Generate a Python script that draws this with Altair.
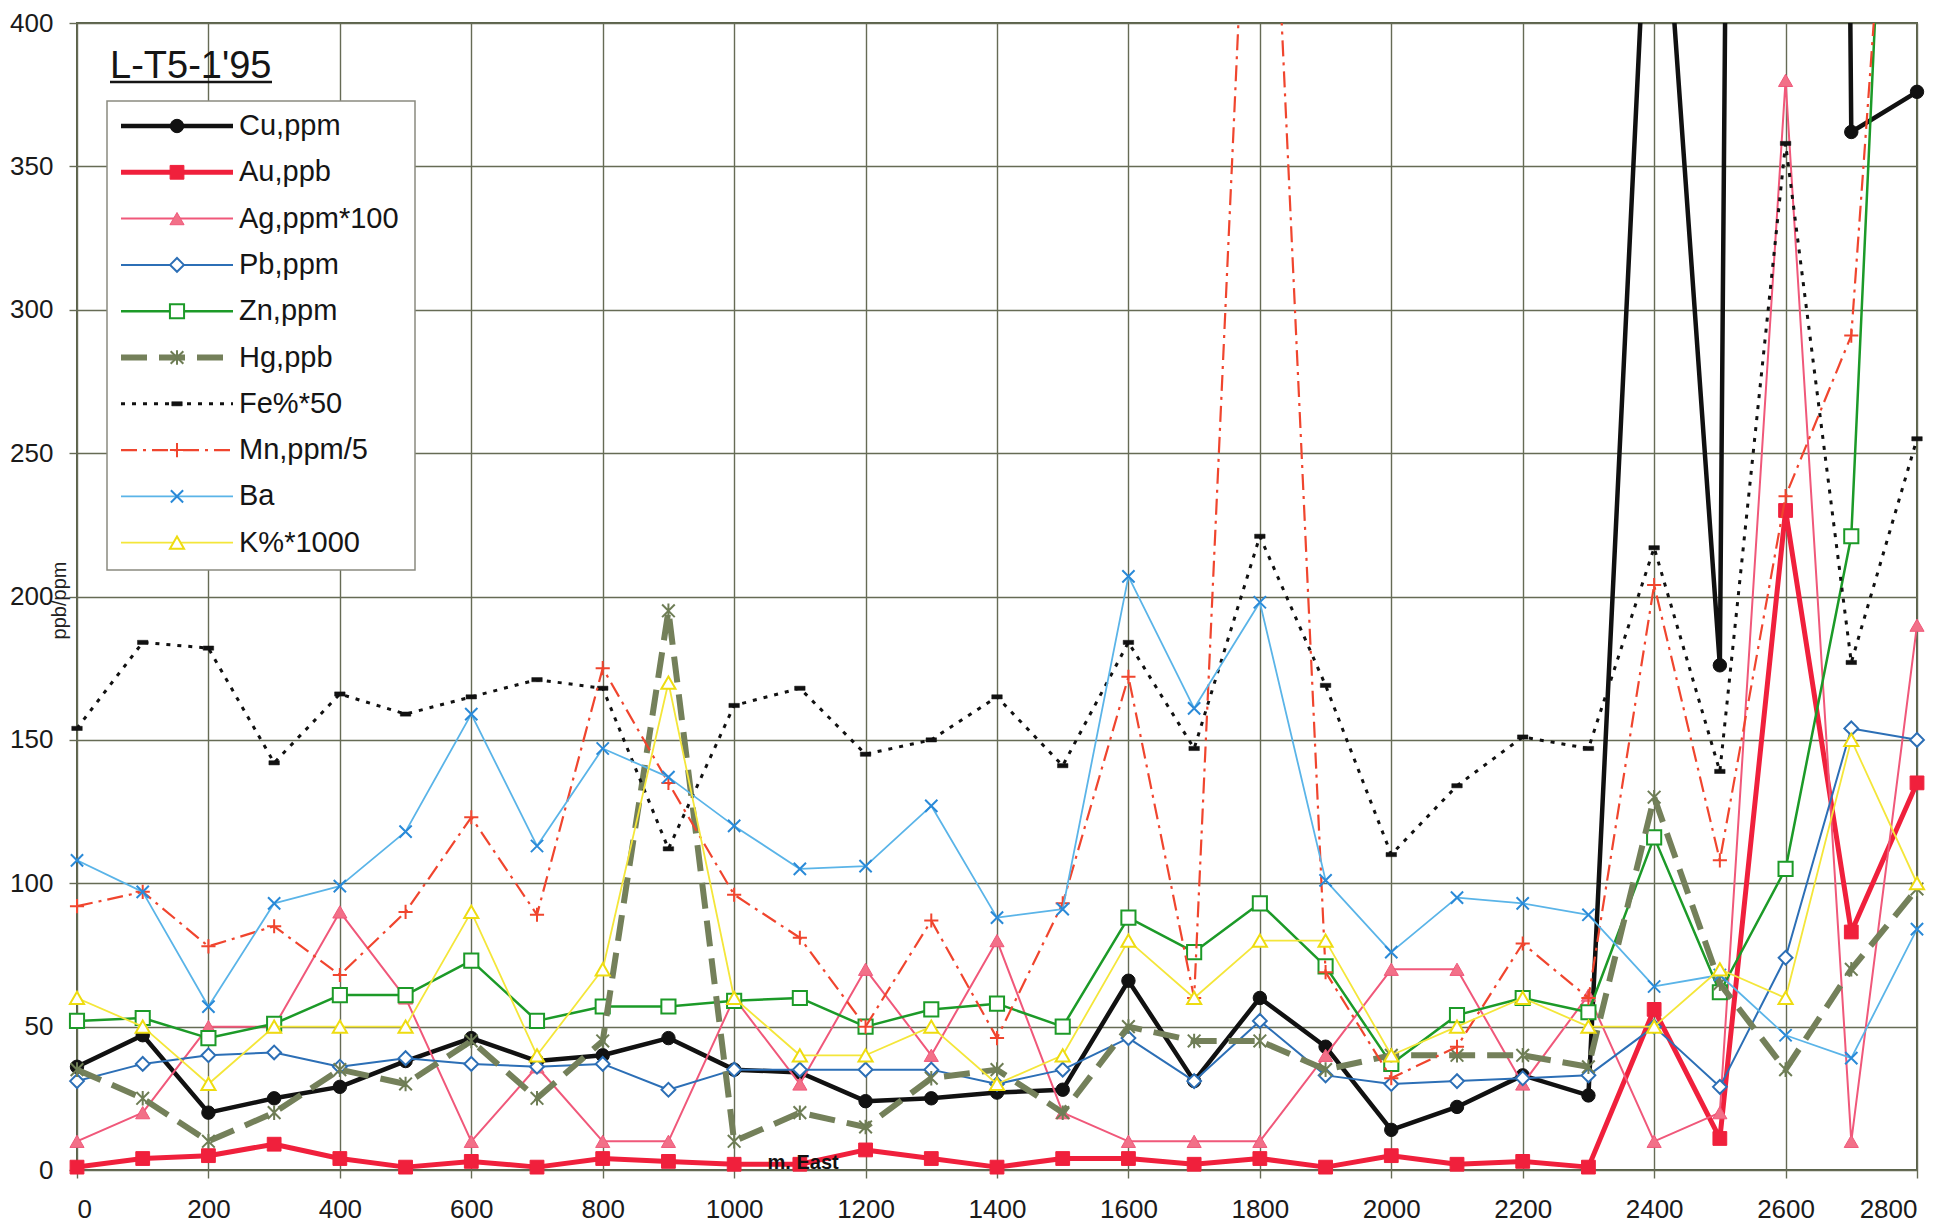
import altair as alt
import pandas as pd

# Sample positions along the line (m East)
distance = list(range(0, 2900, 100))

# Assay values per station (scaled as named in the legend)
cu = [36, 47, 20, 25, 29, 38, 46, 38, 40, 46, 35, 34, 24, 25, 27, 28, 66, 31, 60, 43,
      14, 22, 33, 26, 500, 176, 3000, 362, 376]
au = [1, 4, 5, 9, 4, 1, 3, 1, 4, 3, 2, 2, 7, 4, 1, 4, 4, 2, 4, 1,
      5, 2, 3, 1, 56, 11, 230, 83, 135]
ag = [10, 20, 50, 50, 90, 60, 10, 36, 10, 10, 60, 30, 70, 40, 80, 20, 10, 10, 10, 40,
      70, 70, 30, 61, 10, 20, 380, 10, 190]
pb = [31, 37, 40, 41, 36, 39, 37, 36, 37, 28, 35, 35, 35, 35, 30, 35, 46, 31, 52, 33,
      30, 31, 32, 33, 50, 29, 74, 154, 150]
zn = [52, 53, 46, 51, 61, 61, 73, 52, 57, 57, 59, 60, 50, 56, 58, 50, 88, 76, 93, 71,
      37, 54, 60, 55, 116, 62, 105, 221, 720]
hg = [35, 25, 10, 20, 35, 30, 45, 25, 45, 195, 10, 20, 15, 32, 35, 20, 50, 45, 45, 35,
      40, 40, 40, 36, 130, 65, 35, 70, 98]
fe = [154, 184, 182, 142, 166, 159, 165, 171, 168, 112, 162, 168, 145, 150, 165, 141, 184, 147, 221, 169,
      110, 134, 151, 147, 217, 139, 358, 177, 255]
mn = [92, 97, 78, 85, 68, 90, 123, 89, 175, 135, 96, 81, 50, 87, 46, 93, 172, 60, 565, 69,
      32, 43, 79, 60, 204, 108, 235, 291, 610]
ba = [108, 97, 57, 93, 99, 118, 159, 113, 147, 137, 120, 105, 106, 127, 88, 91, 207, 161, 198, 101,
      76, 95, 93, 89, 64, 68, 47, 39, 84]
k = [60, 50, 30, 50, 50, 50, 90, 40, 70, 170, 60, 40, 40, 50, 30, 40, 80, 60, 80, 80,
     40, 50, 60, 50, 50, 70, 60, 150, 100]

series_names = ["Cu,ppm", "Au,ppb", "Ag,ppm*100", "Pb,ppm", "Zn,ppm",
                "Hg,ppb", "Fe%*50", "Mn,ppm/5", "Ba", "K%*1000"]
series_values = [cu, au, ag, pb, zn, hg, fe, mn, ba, k]

chart_title = ["L-T5-1'95"]
x_note = ["m. East"]
x_note_pos = [1105]
y_axis_title = "ppb/ppm"

FONT = "Arial, Liberation Sans, sans-serif"
GRID = "#666b55"

# custom marker outlines (unit square -1..1)
ASTERISK = "M-1,-1L1,1M-1,1L1,-1M0,-1.15L0,1.15"
XMARK = "M-1,-1L1,1M-1,1L1,-1"
PLUS = "M-1,0L1,0M0,-1L0,1"
BAR = "M-1,-0.4L1,-0.4L1,0.4L-1,0.4Z"

styles = [
    dict(line="#111111", w=4.5, dash=None, shape="circle", fill="#111111", stroke="#111111", sw=1, size=180),
    dict(line="#f0203c", w=5, dash=None, shape="square", fill="#f0203c", stroke="#f0203c", sw=1, size=190),
    dict(line="#f0587a", w=2, dash=None, shape="triangle-up", fill="#f27088", stroke="#f0587a", sw=1, size=200),
    dict(line="#2c6fb6", w=2, dash=None, shape="diamond", fill="white", stroke="#2c6fb6", sw=2, size=190),
    dict(line="#1c9a28", w=2.5, dash=None, shape="square", fill="white", stroke="#1c9a28", sw=2, size=200),
    dict(line="#74805a", w=6, dash=[26, 12], shape=ASTERISK, fill=None, stroke="#6e7d55", sw=2, size=160),
    dict(line="#111111", w=3, dash=[4, 7], shape=BAR, fill="#111111", stroke="#111111", sw=0.5, size=110),
    dict(line="#f0452e", w=2.2, dash=[16, 6, 3, 6], shape=PLUS, fill=None, stroke="#f0452e", sw=2, size=200),
    dict(line="#5ab4e8", w=1.8, dash=None, shape=XMARK, fill=None, stroke="#2a8ad8", sw=2, size=150),
    dict(line="#f4e63a", w=1.8, dash=None, shape="triangle-up", fill="white", stroke="#eedc10", sw=2, size=200),
]

x_scale = alt.Scale(domain=[0, 2800], nice=False, zero=False)
y_scale = alt.Scale(domain=[0, 400], nice=False)
x_axis = alt.Axis(values=list(range(0, 2801, 200)), format="d", title=None, labelPadding=18)
y_axis = alt.Axis(values=list(range(0, 401, 50)), format="d", title=y_axis_title, titleFontSize=20,
                  titleFont=FONT, titleFontWeight="normal", titleColor="#222222",
                  titleX=-18, titleY=577, titleAngle=270, titleAlign="center",
                  titleBaseline="middle", labelPadding=16)

X = alt.X("m:Q", scale=x_scale, axis=x_axis)
Y = alt.Y("v:Q", scale=y_scale, axis=y_axis)

layers = []
one_row = pd.DataFrame({"a": [0]})

# legend frame
layers.append(
    alt.Chart(one_row).mark_rect(fill="white", stroke="#8a8a80", strokeWidth=1.5).encode(
        x=alt.value(30), x2=alt.value(338), y=alt.value(78), y2=alt.value(547))
)

for i, (name, vals, st) in enumerate(zip(series_names, series_values, styles)):
    df = pd.DataFrame({"m": distance, "v": vals})
    line_kw = dict(color=st["line"], strokeWidth=st["w"], clip=True, strokeJoin="round")
    if st["dash"]:
        line_kw["strokeDash"] = st["dash"]
    layers.append(alt.Chart(df).mark_line(**line_kw).encode(x=X, y=Y))

    pt_kw = dict(shape=st["shape"], size=st["size"], stroke=st["stroke"],
                 strokeWidth=st["sw"], opacity=1)
    if st["fill"]:
        pt_kw.update(filled=True, fill=st["fill"], fillOpacity=1)
    else:
        pt_kw.update(filled=False)
    layers.append(
        alt.Chart(df).mark_point(**pt_kw).encode(x=X, y=Y).transform_filter("datum.v <= 400")
    )

    # legend row
    ly = 103 + i * 46.3
    leg = pd.DataFrame({"label": [name]})
    rule_kw = dict(color=st["line"], strokeWidth=st["w"])
    if st["dash"]:
        rule_kw["strokeDash"] = st["dash"]
    layers.append(alt.Chart(leg).mark_rule(**rule_kw).encode(
        x=alt.value(44), x2=alt.value(156), y=alt.value(ly)))
    layers.append(alt.Chart(leg).mark_point(**pt_kw).encode(x=alt.value(100), y=alt.value(ly)))
    layers.append(alt.Chart(leg).mark_text(align="left", baseline="middle", fontSize=29,
                                           font=FONT, color="#151515").encode(
        x=alt.value(162), y=alt.value(ly), text="label:N"))

# underlined heading
title_df = pd.DataFrame({"label": chart_title})
layers.append(alt.Chart(title_df).mark_text(align="left", baseline="alphabetic", fontSize=38,
                                            font=FONT, color="#151515").encode(
    x=alt.value(33), y=alt.value(55), text="label:N"))
layers.append(alt.Chart(title_df).mark_rule(color="#151515", strokeWidth=2.5).encode(
    x=alt.value(33), x2=alt.value(195), y=alt.value(59)))

# distance unit note on the baseline
note_df = pd.DataFrame({"m": x_note_pos, "v": [0], "label": x_note})
layers.append(alt.Chart(note_df).mark_text(baseline="alphabetic", dy=-1, fontSize=20,
                                           fontWeight="bold", font=FONT, color="#111111").encode(
    x=X, y=Y, text="label:N"))

chart = alt.layer(*layers).properties(
    width=1840, height=1147,
    padding={"left": 77, "top": 23, "right": 33, "bottom": 54},
    autosize=alt.AutoSizeParams(type="none"),
    background="white",
).configure_view(
    stroke="#58604a", strokeWidth=2
).configure_axis(
    grid=True, gridColor=GRID, gridWidth=1.4, gridOpacity=1,
    domain=False, ticks=True, tickColor=GRID, tickSize=8, tickWidth=1.4,
    labelFont=FONT, labelFontSize=26, labelColor="#1a1a1a",
)

chart.save("out.html", embed_options={"renderer": "svg", "actions": False})
